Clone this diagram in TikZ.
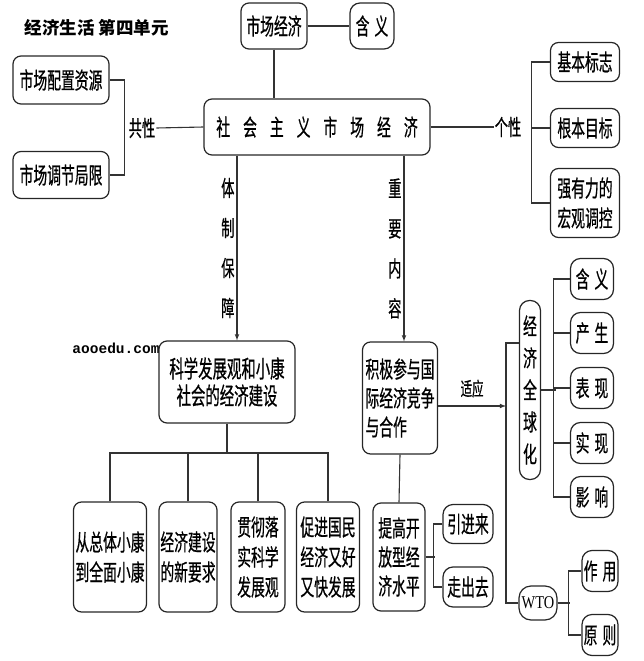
\documentclass[tikz,border=0pt]{standalone}
\usepackage{fontspec}
\usepackage{tikz}
\usetikzlibrary{positioning}
\usetikzlibrary{arrows}
\newfontfamily\hei[FakeStretch=0.6, FakeBold=0.6]{Noto Sans CJK SC}
\newfontfamily\headfont{Noto Sans CJK SC}
\newfontfamily\wtofont[FakeStretch=0.8]{Liberation Serif}
\newfontfamily\webfont{Liberation Mono}
\newcommand{\cgap}{\hspace{13pt}}
\newcommand{\pgap}{\hspace{5pt}}

\begin{document}
\begin{tikzpicture}[x=1pt, y=-1pt,
    box/.style={draw=black!85, line width=1.2pt, rounded corners=8pt, inner sep=0pt,
        align=center, font=\hei\fontsize{23pt}{30pt}\selectfont},
    pill/.style={box, rounded corners=10pt},
    lbl/.style={inner sep=1pt, font=\hei\fontsize{22pt}{40pt}\selectfont, align=center},
    link/.style={draw=black!80, line width=1.1pt}]
    \path[use as bounding box] (0,0) rectangle (644,661);

    % Title and web mark
    \node[anchor=west, font=\headfont\bfseries\fontsize{17.5pt}{20pt}\selectfont] (title) at (21,28) {经济生活\ 第四单元};
    \node[font=\webfont\bfseries\fontsize{14.5pt}{16pt}\selectfont] (web) at (116,348) {aooedu.com};

    % Top part
    \node[box, minimum width=66pt, minimum height=46pt] (scjj) at (274,26) {市场经济};
    \node[pill, minimum width=44pt, minimum height=46pt] (hy) at (372,26) {含\pgap 义};
    \node[box, minimum width=226pt, minimum height=56pt] (shzy) at (317,127)
        {社\cgap 会\cgap 主\cgap 义\cgap 市\cgap 场\cgap 经\cgap 济};
    \node[box, minimum width=96pt, minimum height=48pt] (pz) at (61,80) {市场配置资源};
    \node[box, minimum width=96pt, minimum height=47pt] (tj) at (61,175) {市场调节局限};
    \node[lbl] (gx) at (142,128) {共性};
    \node[lbl] (gex) at (508,127) {个性};
    \node[box, minimum width=69pt, minimum height=39pt] (jbbz) at (585,62) {基本标志};
    \node[box, minimum width=69pt, minimum height=39pt] (gbmb) at (585,128) {根本目标};
    \node[box, minimum width=69pt, minimum height=69pt] (qyl) at (585,203) {强有力的\\宏观调控};

    \draw[link] (scjj.east |- hy.west) -- (hy.west);
    \draw[link] (scjj.south) -- (scjj.south |- shzy.north);
    \draw[link] (pz.east) -- ++(15,0) |- (tj.east);
    \draw[link] (gx.east) -- (shzy.west);
    \draw[link] (shzy.east) -- (gex.west);
    \draw[link] (jbbz.west) -- ++(-18,0) |- (qyl.west);
    \draw[link] (gbmb.west) -- ++(-18,0);

    % Middle part
    \node[box, minimum width=136pt, minimum height=82pt, font=\hei\fontsize{24pt}{27pt}\selectfont] (kxfz) at (227,382)
        {科学发展观和小康\\社会的经济建设};
    \node[box, minimum width=75pt, minimum height=112pt, align=left, font=\hei\fontsize{23pt}{29pt}\selectfont] (jjcy) at (400,398)
        {积极参与国\\际经济竞争\\与合作};
    \coordinate (tz) at (237,0);
    \coordinate (zy) at (404,0);
    \draw[link, -latex] (shzy.south -| tz) -- node[midway, left=1pt, lbl] (tzbz) {体\\制\\保\\障} (kxfz.north -| tz);
    \draw[link, -latex] (shzy.south -| zy) -- node[midway, left=1pt, lbl] (zynr) {重\\要\\内\\容} (jjcy.north -| zy);

    % Bottom boxes
    \node[box, minimum width=73pt, minimum height=110pt] (b1) at (110,557) {从总体小康\\到全面小康};
    \node[box, minimum width=58pt, minimum height=110pt] (b2) at (188,557) {经济建设\\的新要求};
    \node[box, minimum width=54pt, minimum height=110pt] (b3) at (258,557) {贯彻落\\实科学\\发展观};
    \node[box, minimum width=63pt, minimum height=110pt] (b4) at (328,557) {促进国民\\经济又好\\又快发展};
    \node[box, minimum width=52pt, minimum height=108pt, font=\hei\fontsize{23pt}{29pt}\selectfont] (b5) at (399,557) {提高开\\放型经\\济水平};
    \node[pill, minimum width=50pt, minimum height=39pt] (yjl) at (468,524) {引进来};
    \node[pill, minimum width=50pt, minimum height=40pt] (zcq) at (468,587) {走出去};

    \coordinate (bus) at (0,453);
    \draw[link] (kxfz.south) -- (kxfz.south |- bus);
    \draw[link] (b1.north) -- (b1.north |- bus) -- (b4.north |- bus) -- (b4.north);
    \foreach \b in {b2,b3}
        \draw[link] (\b.north) -- (\b.north |- bus);
    \draw[link] (jjcy.south) -- (b5.north);
    \draw[link] (yjl.west) -- ++(-9,0) |- (zcq.west);
    \draw[link] (b5.east) -- ++(9,0);

    % Economic globalisation
    \node[pill, minimum width=21pt, minimum height=179pt, font=\hei\fontsize{23pt}{32pt}\selectfont] (jjqq) at (530,390)
        {经\\济\\全\\球\\化};
    \foreach \n/\t/\y in {g1/含\pgap 义/279, g2/产\pgap 生/333, g3/表\pgap 现/388, g4/实\pgap 现/443, g5/影\pgap 响/497}
        \node[pill, minimum width=43pt, minimum height=41pt] (\n) at (592,\y) {\t};
    \node[pill, rounded corners=12pt, minimum width=38pt, minimum height=34pt, font=\wtofont\fontsize{18pt}{20pt}\selectfont] (wto) at (538,603) {WTO};
    \node[pill, minimum width=36pt, minimum height=41pt] (zyg) at (600,571) {作\pgap 用};
    \node[pill, minimum width=36pt, minimum height=41pt] (yz) at (600,635) {原\pgap 则};

    \coordinate (gl) at (506,343);
    \coordinate (ar) at (506,406);
    \draw[link, -latex] (jjcy.east |- ar) -- node[midway, above=7pt, lbl, font=\hei\fontsize{19pt}{20pt}\selectfont] (sy) {适应} (ar);
    \draw[link] (gl -| jjqq.west) -- (gl) |- (wto.west);
    \draw[link] (jjqq.east) -- ++(15,0);
    \draw[link] (g1.west) -- ++(-16,0) |- (g5.west);
    \foreach \g in {g2,g3,g4}
        \draw[link] (\g.west) -- ++(-16,0);
    \draw[link] (wto.east) -- ++(12,0);
    \draw[link] (zyg.west) -- ++(-13,0) |- (yz.west);

\end{tikzpicture}
\end{document}
